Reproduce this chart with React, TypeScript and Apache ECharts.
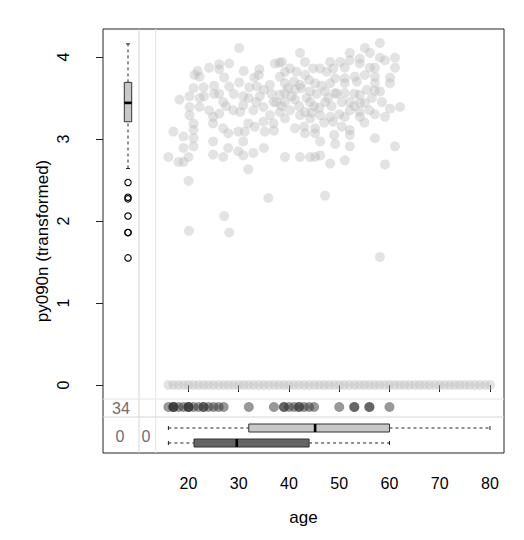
import React, { useEffect, useRef } from "react";
import * as echarts from "echarts";

// ---------- data ----------
const xTicks = [20, 30, 40, 50, 60, 70, 80];
const yTicks = [0, 1, 2, 3, 4];

// observed (age, py090n transformed) pairs
const observedPoints: [number, number][] = [
  [30.1, 4.11], [28.1, 3.92], [26.1, 3.91], [24.1, 3.87], [21.8, 3.83], [21.2, 3.78], [22.2, 3.76], [26.1, 3.85],
  [27.1, 3.75], [31.0, 3.83], [34.1, 3.85], [37.2, 3.92], [38.1, 3.93], [25.1, 3.65], [23.0, 3.63], [21.0, 3.62],
  [28.1, 3.64], [30.1, 3.69], [32.1, 3.63], [33.1, 3.75], [33.6, 3.64], [34.0, 3.78], [36.2, 3.66], [38.2, 3.76],
  [18.2, 3.48], [20.2, 3.52], [22.2, 3.50], [23.1, 3.52], [25.1, 3.55], [26.1, 3.55], [26.9, 3.45], [28.9, 3.35],
  [30.9, 3.52], [30.9, 3.41], [30.3, 3.33], [20.2, 3.39], [22.2, 3.39], [24.1, 3.35], [26.1, 3.31], [20.2, 3.29],
  [34.2, 3.52], [34.9, 3.39], [36.9, 3.45], [38.2, 3.54], [32.9, 3.35], [36.2, 3.29], [38.2, 3.33],
  [24.9, 3.27], [21.0, 3.19], [24.9, 3.19], [21.0, 3.11], [17.0, 3.09], [19.0, 3.03], [21.0, 3.01], [26.9, 3.13],
  [27.9, 3.07], [29.9, 3.09], [31.2, 3.09], [31.9, 3.19], [33.2, 3.15], [34.9, 3.21], [35.2, 3.09], [36.9, 3.19],
  [24.9, 2.97], [30.9, 2.97], [21.0, 2.91], [19.0, 2.89], [27.9, 2.89], [29.9, 2.85], [30.9, 2.80], [32.9, 2.83],
  [35.0, 2.89], [24.9, 2.81], [26.9, 2.78], [16.0, 2.78], [18.0, 2.72], [20.0, 2.78], [19.0, 2.72], [31.9, 2.63],
  [20.0, 2.49], [35.9, 2.28],
  [58.1, 4.17], [55.1, 4.11], [52.1, 4.05], [56.1, 4.05], [61.1, 3.99], [58.1, 3.99], [59.1, 3.96], [54.1, 3.98],
  [52.1, 3.96], [50.2, 3.94], [54.1, 3.92], [48.2, 3.94], [42.2, 4.05], [43.2, 3.94], [61.1, 3.87], [56.1, 3.87],
  [57.1, 3.87], [51.1, 3.87], [44.8, 3.86], [46.2, 3.86], [47.5, 3.82], [48.8, 3.86], [38.6, 3.94], [40.2, 3.86],
  [39.2, 3.82], [41.5, 3.82], [43.2, 3.78], [53.1, 3.76], [55.1, 3.78], [57.1, 3.76], [60.1, 3.75], [51.1, 3.74],
  [49.2, 3.74], [57.1, 3.68], [60.1, 3.68], [51.1, 3.68], [48.2, 3.68], [45.2, 3.68], [42.2, 3.66], [39.2, 3.68],
  [57.1, 3.59], [58.1, 3.58], [54.1, 3.54], [49.2, 3.56], [51.1, 3.56], [47.2, 3.58], [44.2, 3.58], [41.2, 3.60],
  [39.2, 3.56], [52.1, 3.45], [54.1, 3.44], [55.1, 3.44], [54.1, 3.33], [52.1, 3.35], [47.2, 3.45], [44.2, 3.45],
  [41.2, 3.48], [39.2, 3.45], [60.1, 3.37], [62.1, 3.39], [57.1, 3.30], [59.1, 3.27], [51.1, 3.27], [48.2, 3.27],
  [46.2, 3.29], [43.2, 3.33], [40.2, 3.35], [42.2, 3.29],
  [39.2, 3.25], [44.2, 3.25], [48.8, 3.21], [54.1, 3.27], [41.2, 3.13], [43.2, 3.07], [45.2, 3.13], [45.2, 3.07],
  [52.1, 3.11], [52.1, 3.05], [46.2, 2.97], [49.2, 2.94], [52.1, 2.91], [57.1, 3.01], [61.1, 2.91], [39.2, 2.78],
  [42.2, 2.78], [44.2, 2.78], [45.2, 2.78], [46.2, 2.80], [48.2, 2.70], [51.1, 2.74], [59.1, 2.69], [47.2, 2.31],
  [27.1, 2.06], [20.1, 1.88], [28.1, 1.86], [58.1, 1.56],
  [41.0, 3.70], [42.5, 3.62], [44.0, 3.72], [45.5, 3.55], [46.5, 3.65], [47.8, 3.50], [43.5, 3.50], [40.5, 3.52],
  [45.0, 3.40], [48.5, 3.40], [49.5, 3.55], [50.5, 3.45], [42.0, 3.40], [44.5, 3.32], [46.0, 3.38], [39.8, 3.62],
  [38.5, 3.40], [36.5, 3.55], [35.0, 3.60], [37.5, 3.45], [33.5, 3.45], [32.0, 3.50], [29.0, 3.55], [27.5, 3.40],
  [47.0, 3.20], [50.0, 3.30], [53.0, 3.55], [55.5, 3.60], [56.5, 3.50], [53.5, 3.70],
  [55.0, 3.20], [56.0, 3.35], [50.5, 3.15], [49.0, 3.05], [53.0, 3.40], [58.5, 3.45], [43.0, 3.15], [37.0, 3.10],
];

// ages with py090n == 0
const zeroRowAges = [
  16, 17, 18, 19, 20, 21, 22, 23, 24, 25, 26, 27, 28, 29, 30, 31, 32, 33, 34, 35, 36, 37, 38, 39, 40, 41, 42, 43,
  44, 45, 46, 47, 48, 49, 50, 51, 52, 53, 54, 55, 56, 57, 58, 59, 60, 61, 62, 63, 64, 65, 66, 67, 68, 69, 70, 71,
  72, 73, 74, 75, 76, 77, 78, 79, 80,
];

// ages where py090n is missing
const missingYAges = [
  16, 17, 17, 17, 18, 19, 20, 20, 20, 21, 22, 23, 23, 24, 25, 26, 27, 32, 37, 39, 39, 40, 41, 42, 42, 43, 44, 45,
  50, 53, 53, 56, 56, 60,
];

const missingYCount = "34";
const missingXCount = "0";
const missingBothCount = "0";

// boxplot stats [min, q1, median, q3, max]
const ageBoxObservedY = [16, 32, 45.2, 60, 80];
const ageBoxMissingY = [16, 21.1, 29.6, 44.0, 60];
const yBoxObservedX = [2.64, 3.21, 3.44, 3.69, 4.16];
const yBoxOutliers = [2.47, 2.29, 2.27, 2.06, 1.86, 1.86, 1.55];

// ---------- layout ----------
const GRID_LEFT = 103;
const GRID_TOP = 29;
const GRID_W = 401;
const GRID_H = 424;
const FONT = "'Liberation Sans', Arial, Helvetica, sans-serif";

const LIGHT = "rgba(185,185,185,0.5)";
const DARK = "rgba(50,50,50,0.5)";

function hBoxRender(offsetFromBottom: number, fill: string) {
  return (params: any, api: any) => {
    const cs = params.coordSys;
    const yc = cs.y + cs.height - offsetFromBottom;
    const p = [0, 1, 2, 3, 4].map((i) => api.coord([api.value(i), 0])[0]);
    const h = 4;
    const dash = { stroke: "#222", lineWidth: 1, lineDash: [3, 3] };
    const solid = { stroke: "#222", lineWidth: 1 };
    return {
      type: "group",
      children: [
        { type: "line", shape: { x1: p[0], y1: yc, x2: p[1], y2: yc }, style: dash },
        { type: "line", shape: { x1: p[3], y1: yc, x2: p[4], y2: yc }, style: dash },
        { type: "line", shape: { x1: p[0], y1: yc - 2, x2: p[0], y2: yc + 2 }, style: solid },
        { type: "line", shape: { x1: p[4], y1: yc - 2, x2: p[4], y2: yc + 2 }, style: solid },
        {
          type: "rect",
          shape: { x: p[1], y: yc - h, width: p[3] - p[1], height: 2 * h },
          style: { fill, stroke: "#333", lineWidth: 1 },
        },
        { type: "line", shape: { x1: p[2], y1: yc - h, x2: p[2], y2: yc + h }, style: { stroke: "#000", lineWidth: 2.6 } },
      ],
    };
  };
}

function vBoxRender(params: any, api: any) {
  const cs = params.coordSys;
  const xc = cs.x + 25;
  const p = [0, 1, 2, 3, 4].map((i) => api.coord([0, api.value(i)])[1]);
  const w = 3.7;
  const dash = { stroke: "#222", lineWidth: 1, lineDash: [3, 3] };
  const solid = { stroke: "#222", lineWidth: 1 };
  const outliers = yBoxOutliers.map((v) => ({
    type: "circle",
    shape: { cx: xc, cy: api.coord([0, v])[1], r: 3.2 },
    style: { fill: "none", stroke: "#000", lineWidth: 1.1 },
  }));
  return {
    type: "group",
    children: [
      { type: "line", shape: { x1: xc, y1: p[0], x2: xc, y2: p[1] }, style: dash },
      { type: "line", shape: { x1: xc, y1: p[3], x2: xc, y2: p[4] }, style: dash },
      { type: "line", shape: { x1: xc - 2, y1: p[0], x2: xc + 2, y2: p[0] }, style: solid },
      { type: "line", shape: { x1: xc - 2, y1: p[4], x2: xc + 2, y2: p[4] }, style: solid },
      {
        type: "rect",
        shape: { x: xc - w, y: p[3], width: 2 * w, height: p[1] - p[3] },
        style: { fill: "#c8c8c8", stroke: "#333", lineWidth: 1 },
      },
      { type: "line", shape: { x1: xc - w, y1: p[2], x2: xc + w, y2: p[2] }, style: { stroke: "#000", lineWidth: 2.6 } },
      ...outliers,
    ],
  };
}

function missingRowRender(params: any, api: any) {
  const cs = params.coordSys;
  const x = api.coord([api.value(0), 0])[0];
  return {
    type: "circle",
    shape: { cx: x, cy: cs.y + cs.height - 46, r: 5 },
    style: { fill: DARK },
  };
}

export default function App() {
  const ref = useRef<HTMLDivElement>(null);
  useEffect(() => {
    if (!ref.current) return;
    const chart = echarts.init(ref.current, null, { renderer: "svg" });
    const sepColor = "#d6d6d6";
    const vx1 = GRID_LEFT + 36;
    const vx2 = GRID_LEFT + 52.7;
    const hy1 = GRID_TOP + GRID_H - 54;
    const hy2 = GRID_TOP + GRID_H - 36;
    const gTop = GRID_TOP;
    const gBot = GRID_TOP + GRID_H;
    const gL = GRID_LEFT;
    const gR = GRID_LEFT + GRID_W;
    const textStyle = (t: string, x: number, y: number) => ({
      type: "text",
      x,
      y,
      z: 10,
      style: {
        text: t,
        fill: "#6e6e6e",
        font: `16px ${FONT}`,
        textAlign: "center",
        textVerticalAlign: "middle",
      },
    });

    chart.setOption({
      animation: false,
      backgroundColor: "#ffffff",
      grid: {
        left: GRID_LEFT,
        top: GRID_TOP,
        width: GRID_W,
        height: GRID_H,
        show: true,
        borderColor: "#222",
        borderWidth: 1,
        backgroundColor: "transparent",
      },
      xAxis: {
        type: "value",
        min: 2.985,
        max: 82.79,
        axisLine: { show: false },
        axisTick: { show: true, customValues: xTicks, length: 7, lineStyle: { color: "#222" } },
        axisLabel: { customValues: xTicks, margin: 22, fontSize: 16, color: "#000", fontFamily: FONT },
        splitLine: { show: false },
        name: "age",
        nameLocation: "middle",
        nameGap: 56,
        nameMoveOverlap: false,
        nameTextStyle: { fontSize: 17, color: "#000", fontFamily: FONT },
      },
      yAxis: {
        type: "value",
        min: -0.829,
        max: 4.341,
        axisLine: { show: false },
        axisTick: { show: true, customValues: yTicks, length: 7, lineStyle: { color: "#222" } },
        axisLabel: {
          customValues: yTicks,
          margin: 32,
          rotate: 90,
          align: "center",
          verticalAlign: "bottom",
          fontSize: 16,
          color: "#000",
          fontFamily: FONT,
        },
        splitLine: { show: false },
        name: "py090n (transformed)",
        nameLocation: "middle",
        nameGap: 52,
        nameMoveOverlap: false,
        nameTextStyle: { fontSize: 17, color: "#000", fontFamily: FONT },
      },
      graphic: [
        { type: "line", shape: { x1: vx1, y1: gTop, x2: vx1, y2: gBot }, style: { stroke: sepColor, lineWidth: 1 } },
        { type: "line", shape: { x1: vx2, y1: gTop, x2: vx2, y2: gBot }, style: { stroke: "#e4e4e4", lineWidth: 1 } },
        { type: "line", shape: { x1: gL, y1: hy1, x2: gR, y2: hy1 }, style: { stroke: "#e4e4e4", lineWidth: 1 } },
        { type: "line", shape: { x1: gL, y1: hy2, x2: gR, y2: hy2 }, style: { stroke: sepColor, lineWidth: 1 } },
        textStyle(missingYCount, GRID_LEFT + 18, gBot - 45),
        textStyle(missingBothCount, GRID_LEFT + 17, gBot - 17),
        textStyle(missingXCount, GRID_LEFT + 43, gBot - 17),
      ],
      series: [
        {
          type: "scatter",
          silent: true,
          symbol: "circle",
          symbolSize: 10,
          itemStyle: { color: LIGHT },
          data: [...observedPoints, ...zeroRowAges.map((a) => [a, 0])],
        },
        {
          type: "custom",
          silent: true,
          renderItem: missingRowRender,
          encode: { x: 0 },
          data: missingYAges.map((a) => [a]),
        },
        {
          type: "custom",
          silent: true,
          renderItem: hBoxRender(25, "#c8c8c8"),
          encode: { x: [0, 1, 2, 3, 4] },
          data: [ageBoxObservedY],
        },
        {
          type: "custom",
          silent: true,
          renderItem: hBoxRender(10, "#646464"),
          encode: { x: [0, 1, 2, 3, 4] },
          data: [ageBoxMissingY],
        },
        {
          type: "custom",
          silent: true,
          renderItem: vBoxRender,
          encode: { y: [0, 1, 2, 3, 4] },
          data: [yBoxObservedX],
        },
      ],
    });
    return () => chart.dispose();
  }, []);

  return (
    <div
      ref={ref}
      style={{ position: "absolute", left: 0, top: 0, width: 524, height: 540, background: "#fff" }}
    />
  );
}
